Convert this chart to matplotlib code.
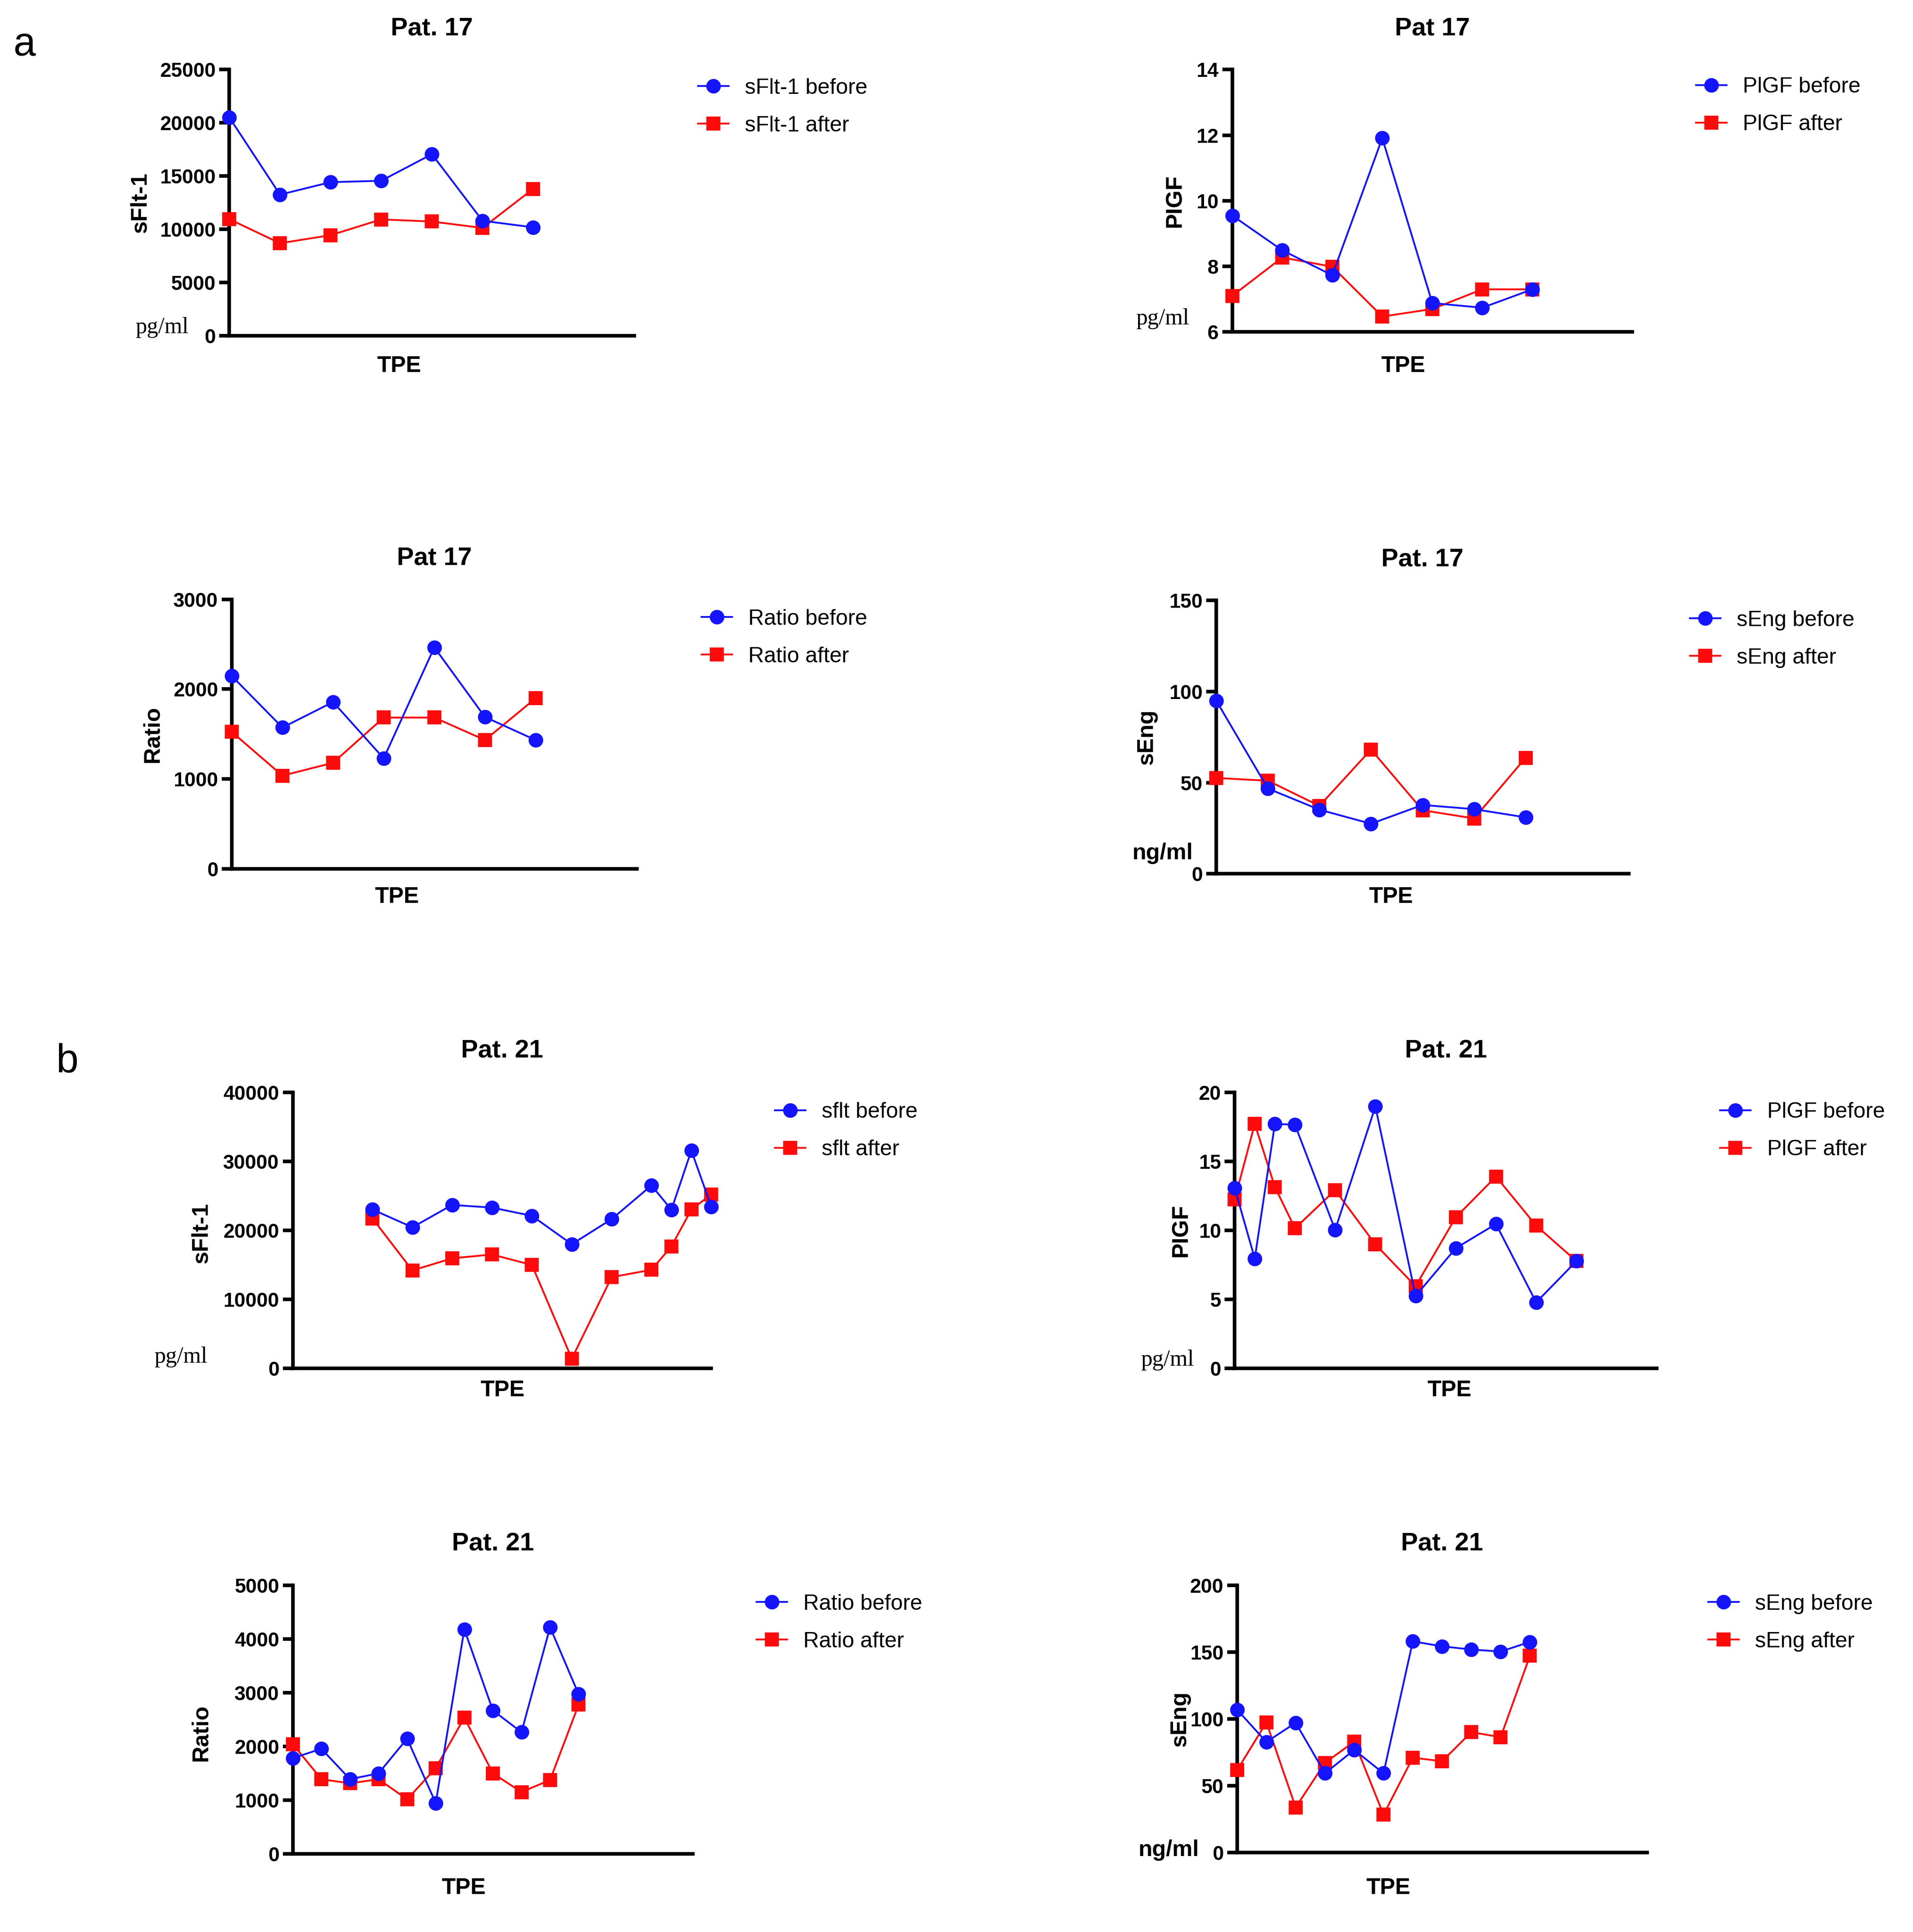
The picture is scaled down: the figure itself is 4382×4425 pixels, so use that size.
import matplotlib
matplotlib.use('Agg')
from matplotlib import pyplot as plt

plt.rcParams['font.family'] = ['Liberation Sans', 'DejaVu Sans']

# Pat. 17 - pontos de TPE
tpe_17 = [0, 1, 2, 3, 4, 5, 6]
sflt_17_before = [20500, 13250, 14420, 14550, 17050, 10790, 10180]
sflt_17_after = [10940, 8680, 9440, 10920, 10720, 10120, 13790]
plgf_17_before = [9.55, 8.49, 7.73, 11.91, 6.88, 6.74, 7.30]
plgf_17_after = [7.10, 8.27, 7.99, 6.47, 6.70, 7.30, 7.30]
ratio_17_before = [2146, 1573, 1857, 1230, 2465, 1690, 1434]
ratio_17_after = [1524, 1038, 1181, 1684, 1684, 1434, 1898]
seng_17_before = [94.9, 46.8, 35.2, 27.5, 37.8, 35.5, 31.0]
seng_17_after = [52.6, 51.1, 37.3, 68.2, 34.9, 30.4, 63.7]

# Pat. 21
tpe_21_sflt = [2, 3, 4, 5, 6, 7, 8, 9, 9.5, 10, 10.5]
sflt_21_before = [23000, 20430, 23670, 23280, 22090, 17970, 21610, 26500, 22970, 31560, 23430]
sflt_21_after = [21700, 14170, 15930, 16480, 14960, 1370, 13200, 14260, 17660, 23000, 25190]
tpe_21_plgf = [0, 1, 2, 3, 5, 7, 9, 11, 13, 15, 17]
plgf_21_before = [13.06, 7.94, 17.71, 17.65, 10.03, 18.97, 5.23, 8.70, 10.45, 4.77, 7.76]
plgf_21_after = [12.23, 17.71, 13.14, 10.14, 12.91, 8.97, 5.94, 10.94, 13.89, 10.33, 7.76]
tpe_21 = [0, 1, 2, 3, 4, 5, 6, 7, 8, 9, 10]
ratio_21_before = [1783, 1957, 1391, 1500, 2147, 946, 4182, 2671, 2267, 4221, 2973]
ratio_21_after = [2043, 1391, 1314, 1391, 1016, 1597, 2535, 1500, 1151, 1376, 2779]
seng_21_before = [107.0, 82.8, 97.2, 59.4, 76.9, 59.4, 158.1, 154.4, 152.0, 150.5, 157.7]
seng_21_after = [61.7, 97.5, 33.9, 67.2, 83.1, 28.4, 71.1, 68.4, 90.2, 86.4, 147.3]

W, H = 1568.0, 1583.0
AZUL = '#1414ff'
VERMELHO = '#ff0a0a'


def fx(px):
    return px / W


def fy(py):
    return 1 - py / H


def painel(fig, caixa, titulo, x, antes, depois, nomes, xlim, ylim, yticks,
           ylabel, ylabel_pos, tpe_pos, legenda_pos, unidade=None, unidade_pos=None, serif=True):
    l, r, t, b = caixa
    ax = fig.add_axes([fx(l), fy(b), fx(r) - fx(l), (b - t) / H])

    ax.plot(x, depois, color=VERMELHO, marker='s', markersize=6.5, linewidth=1.0,
            label=nomes[1], clip_on=False, zorder=3)
    ax.plot(x, antes, color=AZUL, marker='o', markersize=7, linewidth=1.0,
            label=nomes[0], clip_on=False, zorder=4)

    ax.set_xlim(*xlim)
    ax.set_ylim(*ylim)
    ax.set_yticks(yticks)
    ax.set_xticks([])
    for s in ['top', 'right']:
        ax.spines[s].set_visible(False)
    for s in ['left', 'bottom']:
        ax.spines[s].set_linewidth(2.0)
    ax.tick_params(axis='y', length=5.5, width=2.0, pad=2, labelsize=11)
    for lb in ax.get_yticklabels():
        lb.set_fontweight('bold')

    ax.set_title(titulo, fontsize=14, fontweight='bold', pad=19)
    ax.text(ylabel_pos[0], ylabel_pos[1], ylabel, rotation=90, transform=ax.transAxes,
            ha='center', va='center', fontsize=12.5, fontweight='bold')
    ax.text(tpe_pos[0], tpe_pos[1], 'TPE', transform=ax.transAxes,
            ha='center', va='center', fontsize=12.5, fontweight='bold')
    if unidade:
        if serif:
            ax.text(unidade_pos[0], unidade_pos[1], unidade, transform=ax.transAxes,
                    ha='center', va='center', fontsize=12.5, family='Liberation Serif')
        else:
            ax.text(unidade_pos[0], unidade_pos[1], unidade, transform=ax.transAxes,
                    ha='center', va='center', fontsize=12.5, fontweight='bold')

    hs, ls = ax.get_legend_handles_labels()
    ax.legend(hs[::-1], ls[::-1], loc='upper left',
              bbox_to_anchor=(fx(legenda_pos[0]), fy(legenda_pos[1] - 7)),
              bbox_transform=fig.transFigure, frameon=False, fontsize=12,
              borderpad=0, borderaxespad=0, handlelength=1.4, handletextpad=0.75,
              labelspacing=0.8)
    return ax


fig = plt.figure(figsize=(4382 / 300, 4425 / 300), dpi=300)

# a
painel(fig, (188, 520, 57, 275), 'Pat. 17', tpe_17, sflt_17_before, sflt_17_after,
       ['sFlt-1 before', 'sFlt-1 after'], (0, 8), (0, 25000), range(0, 25001, 5000),
       'sFlt-1', (-0.22, 0.5), (0.419, -0.115), (572, 71), 'pg/ml', (-0.166, 0.03))
painel(fig, (1010, 1338, 57, 272), 'Pat 17', tpe_17, plgf_17_before, plgf_17_after,
       ['PlGF before', 'PlGF after'], (0, 8), (6, 14), range(6, 15, 2),
       'PIGF', (-0.143, 0.5), (0.427, -0.13), (1390, 70), 'pg/ml', (-0.174, 0.05))
painel(fig, (190, 522, 491, 712), 'Pat 17', tpe_17, ratio_17_before, ratio_17_after,
       ['Ratio before', 'Ratio after'], (0, 8), (0, 3000), range(0, 3001, 1000),
       'Ratio', (-0.196, 0.5), (0.407, -0.104), (575, 506))
painel(fig, (997, 1335, 492, 716), 'Pat. 17', tpe_17, seng_17_before, seng_17_after,
       ['sEng before', 'sEng after'], (0, 8), (0, 150), range(0, 151, 50),
       'sEng', (-0.169, 0.5), (0.423, -0.085), (1385, 507), 'ng/ml', (-0.13, 0.075), serif=False)

# b
painel(fig, (240, 583, 895, 1121), 'Pat. 21', tpe_21_sflt, sflt_21_before, sflt_21_after,
       ['sflt before', 'sflt after'], (0, 10.5), (0, 40000), range(0, 40001, 10000),
       'sFlt-1', (-0.219, 0.49), (0.501, -0.08), (635, 910), 'pg/ml', (-0.268, 0.04))
painel(fig, (1012, 1358, 895, 1121), 'Pat. 21', tpe_21_plgf, plgf_21_before, plgf_21_after,
       ['PlGF before', 'PlGF after'], (0, 21), (0, 20), range(0, 21, 5),
       'PIGF', (-0.127, 0.5), (0.509, -0.08), (1410, 910), 'pg/ml', (-0.159, 0.03))
painel(fig, (240, 568, 1299, 1519), 'Pat. 21', tpe_21, ratio_21_before, ratio_21_after,
       ['Ratio before', 'Ratio after'], (0, 14), (0, 5000), range(0, 5001, 1000),
       'Ratio', (-0.229, 0.45), (0.427, -0.127), (620, 1313))
painel(fig, (1014, 1350, 1299, 1518), 'Pat. 21', tpe_21, seng_21_before, seng_21_after,
       ['sEng before', 'sEng after'], (0, 14), (0, 200), range(0, 201, 50),
       'sEng', (-0.14, 0.5), (0.369, -0.132), (1400, 1313), 'ng/ml', (-0.167, 0.01), serif=False)

fig.text(fx(20), fy(37), 'a', fontsize=22, ha='center', va='center')
fig.text(fx(55), fy(870), 'b', fontsize=22, ha='center', va='center')

fig.savefig('out.png', dpi=300)
